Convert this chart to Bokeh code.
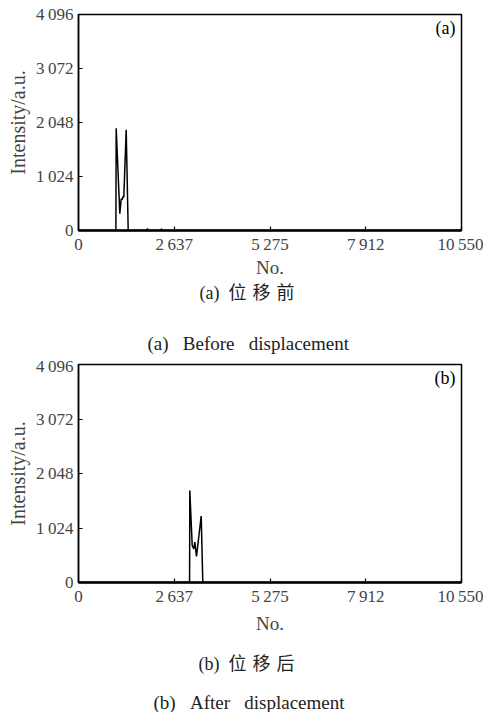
from bokeh.plotting import figure
from bokeh.models import Label, FixedTicker
from bokeh.layouts import column
from bokeh.embed import file_html
from bokeh.resources import INLINE

# ---- data ----
x_ticks = [0, 2637, 5275, 7912, 10550]
x_tick_labels = ["0", "2\u2009637", "5\u2009275", "7\u2009912", "10\u2009550"]
y_ticks = [0, 1024, 2048, 3072, 4096]
y_tick_labels = ["0", "1\u2009024", "2\u2009048", "3\u2009072", "4\u2009096"]

before_no = [0, 650, 1030, 1038, 1138, 1176, 1200, 1222, 1248, 1314, 1369, 1890, 1900, 1910, 2276, 2286, 2296, 10550]
before_int = [0, 0, 0, 1940, 317, 601, 580, 640, 631, 1910, 0, 0, 40, 0, 0, 35, 0, 0]

after_no = [0, 3060, 3066, 3132, 3176, 3204, 3250, 3380, 3424, 10550]
after_int = [0, 0, 1729, 695, 633, 757, 489, 1250, 0, 0]

captions_a = ["(a)\u2002位\u2004移\u2004前", "(a) \u2002Before \u2002displacement"]
captions_b = ["(b)\u2002位\u2004移\u2004后", "(b) \u2002After \u2002displacement"]

SERIF = "Liberation Serif"
MIX = "'Liberation Serif', 'Noto Sans CJK SC'"
LEFT, FW, RIGHT = 78, 383, 22


def panel(xs, ys, tag, top, frame_h, bottom, no_sd):
    p = figure(frame_width=FW, frame_height=frame_h, output_backend="svg",
               toolbar_location=None, x_range=(0, 10550), y_range=(0, 4096),
               min_border_left=LEFT, min_border_right=RIGHT,
               min_border_top=top, min_border_bottom=bottom)
    p.grid.visible = False
    p.background_fill_color = "white"
    p.outline_line_color = "black"
    p.outline_line_width = 1.5
    p.line(xs, ys, line_color="black", line_width=1.5)

    xa = p.xaxis[0]
    xa.ticker = FixedTicker(ticks=x_ticks)
    xa.major_label_overrides = dict(zip(x_ticks, x_tick_labels))
    xa.minor_tick_line_color = None
    xa.major_tick_in = 4
    xa.major_tick_out = 0
    xa.major_tick_line_width = 1.2
    xa.axis_line_width = 2.5
    xa.major_label_text_font = SERIF
    xa.major_label_text_font_size = "17px"
    xa.major_label_standoff = 4
    xa.axis_label = "No."
    xa.axis_label_text_font = SERIF
    xa.axis_label_text_font_style = "normal"
    xa.axis_label_text_font_size = "19px"
    xa.axis_label_standoff = no_sd

    ya = p.yaxis[0]
    ya.ticker = FixedTicker(ticks=y_ticks)
    ya.major_label_overrides = dict(zip(y_ticks, y_tick_labels))
    ya.minor_tick_line_color = None
    ya.major_tick_in = 4
    ya.major_tick_out = 0
    ya.major_tick_line_width = 1.2
    ya.axis_line_width = 1.5
    ya.major_label_text_font = SERIF
    ya.major_label_text_font_size = "17px"
    ya.major_label_standoff = 5
    ya.axis_label = "Intensity/a.u."
    ya.axis_label_text_font = SERIF
    ya.axis_label_text_font_style = "normal"
    ya.axis_label_text_font_size = "20px"
    ya.axis_label_standoff = 4

    p.add_layout(Label(x=10550, y=4096, x_offset=-6, y_offset=-3, text=tag,
                       text_align="right", text_baseline="top",
                       text_font=SERIF, text_font_size="18px", text_color="black"))
    return p


def caption(texts, h, cn_x, cn_y, en_x, en_y):
    c = figure(frame_width=FW, frame_height=h, output_backend="svg",
               toolbar_location=None,
               x_range=(LEFT, LEFT + FW), y_range=(0, h),
               x_axis_type=None, y_axis_type=None,
               min_border_left=LEFT, min_border_right=RIGHT,
               min_border_top=0, min_border_bottom=0)
    c.grid.visible = False
    c.outline_line_color = None
    c.add_layout(Label(x=cn_x, y=cn_y, text=texts[0], text_align="left",
                       text_baseline="middle", text_font=MIX, text_font_size="18px",
                       text_color="#222222"))
    c.add_layout(Label(x=en_x, y=en_y, text=texts[1], text_align="left",
                       text_baseline="middle", text_font=SERIF, text_font_size="19px",
                       text_color="#222222"))
    return c


pa = panel(before_no, before_int, "(a)", 14, 216, 50, 0)
ca = caption(captions_a, 76, 199, 64, 147, 13)
pb = panel(after_no, after_int, "(b)", 8, 218, 54, 4)
cb = caption(captions_b, 76, 198, 49, 153, 10)

layout = column(pa, ca, pb, cb, spacing=0)
open("out.html", "w").write(file_html(layout, INLINE))
